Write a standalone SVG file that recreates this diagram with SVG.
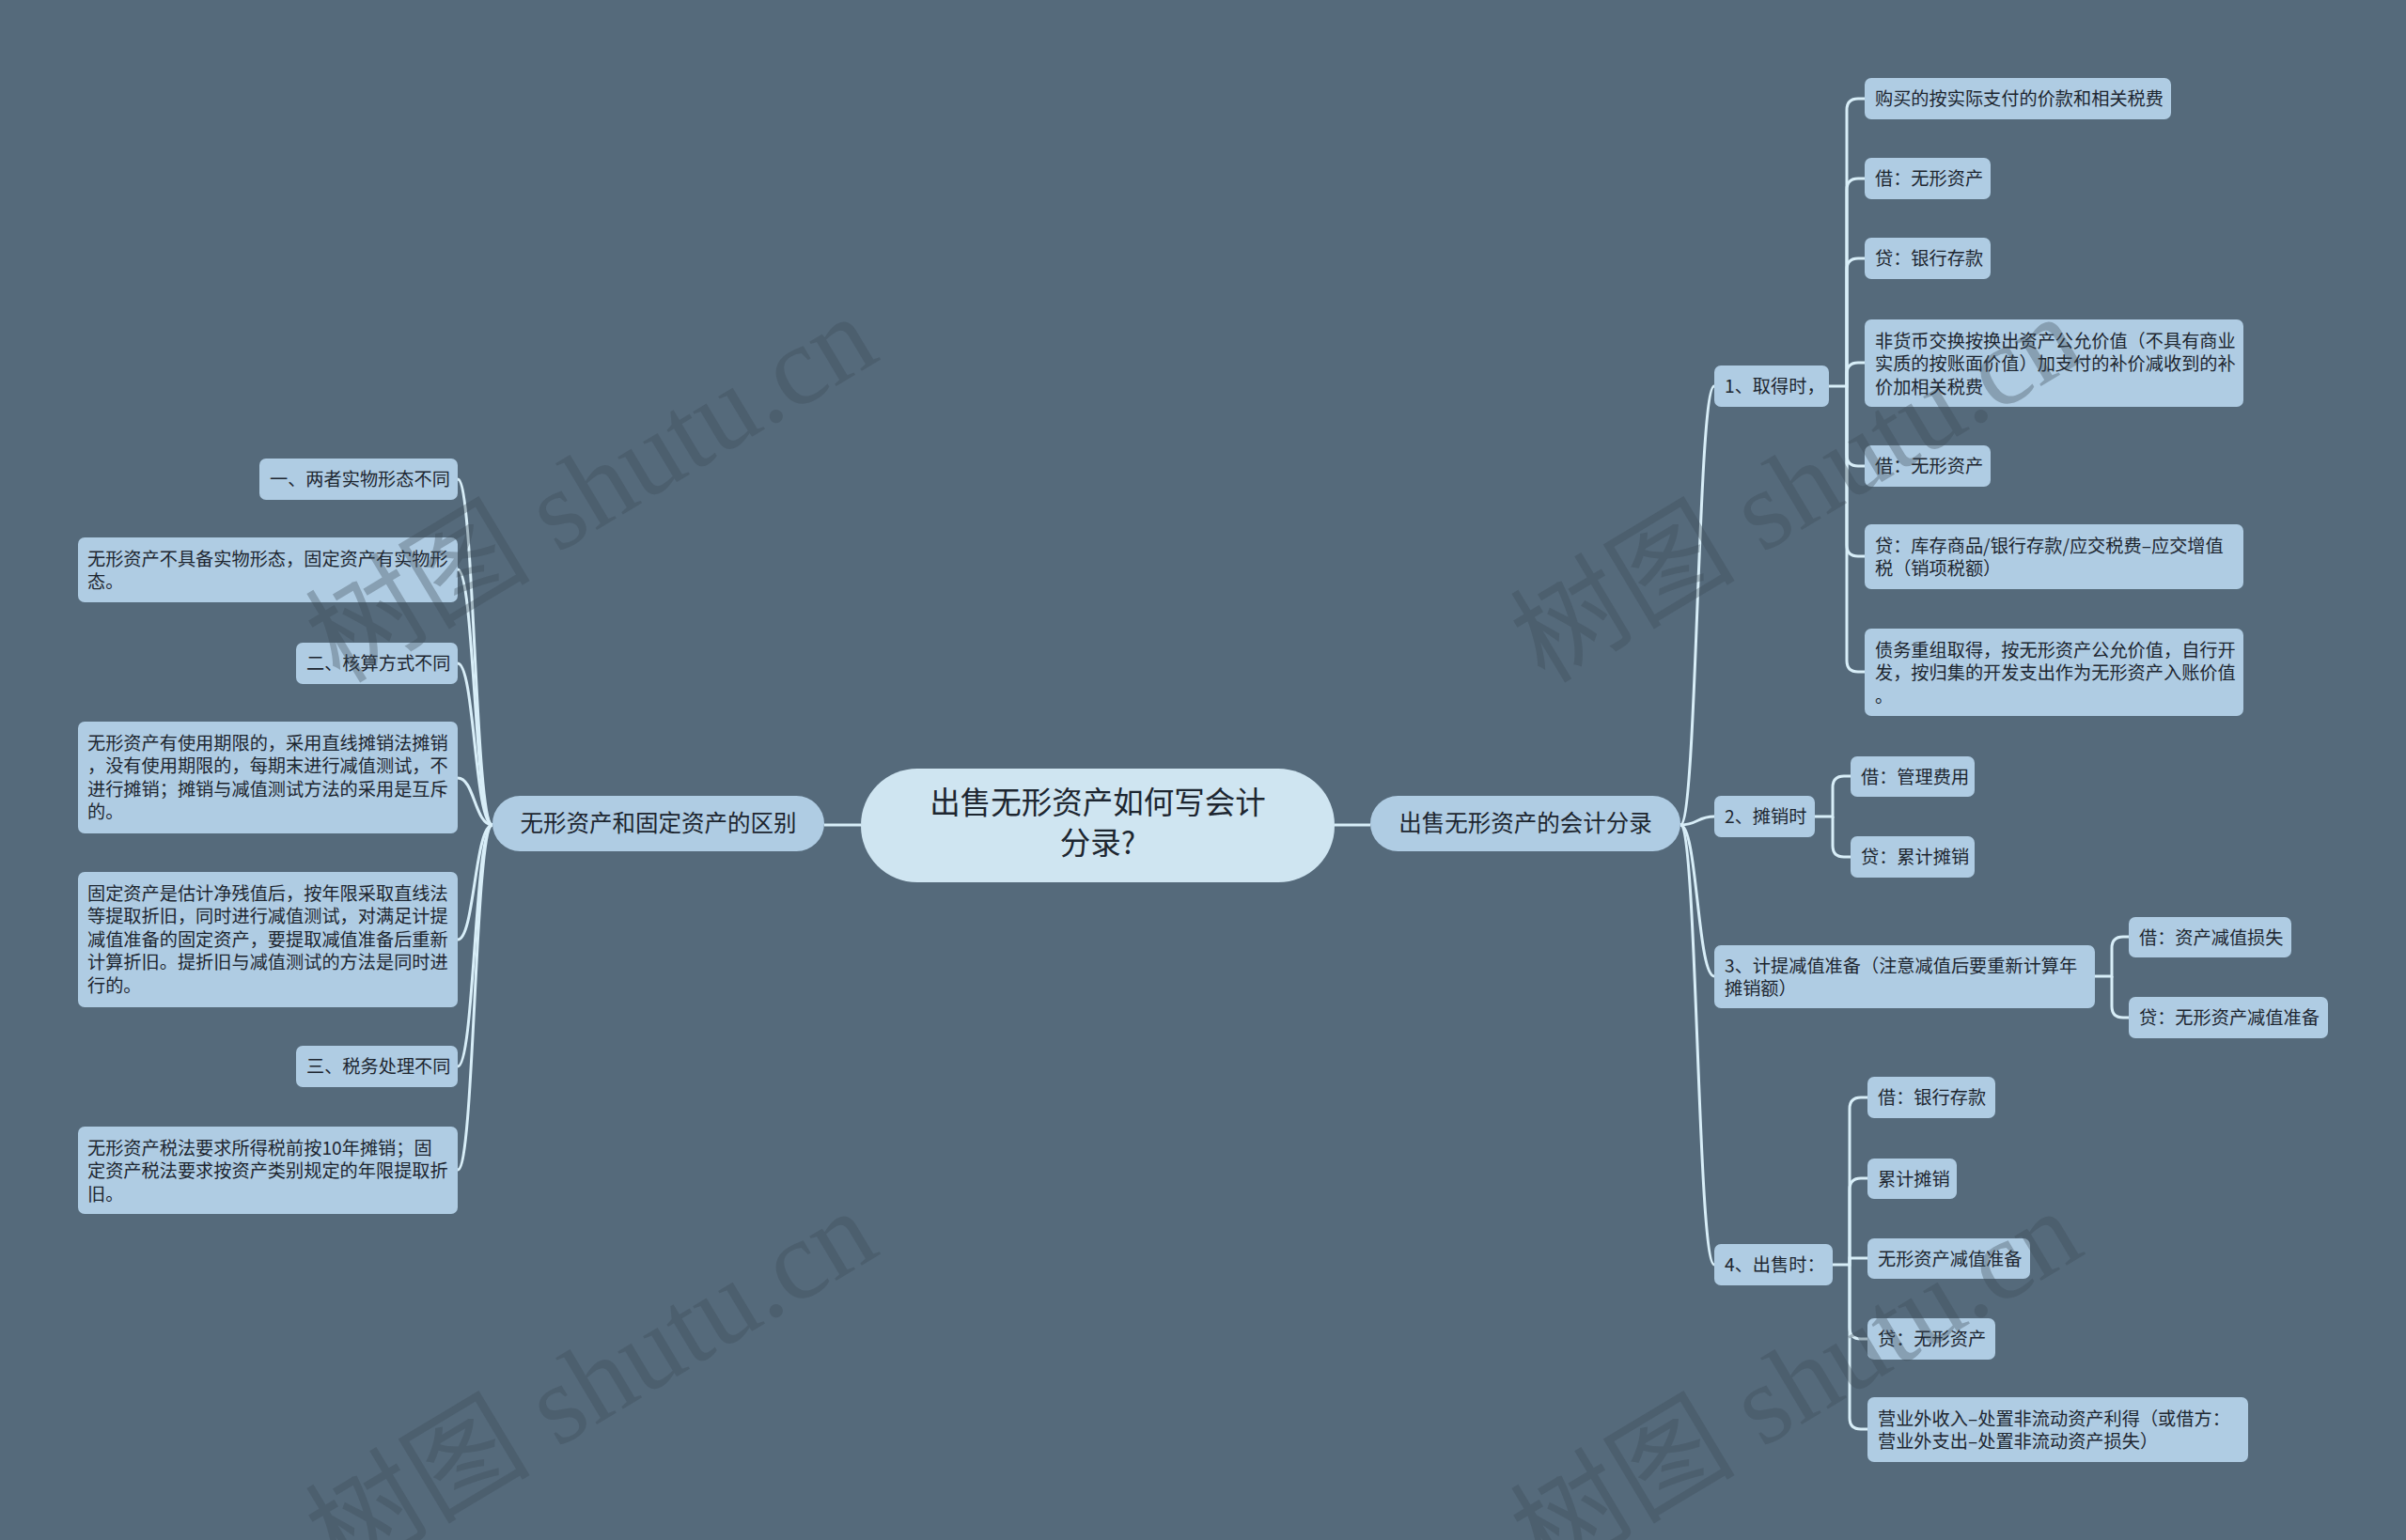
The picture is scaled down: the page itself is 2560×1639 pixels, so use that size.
<svg xmlns="http://www.w3.org/2000/svg" width="2560" height="1639" viewBox="0 0 2560 1639">
<style>
.bg{fill:#556a7b}
.n{fill:#afcce3}
.root{fill:#cfe5f1}
.t{font-family:"Noto Sans CJK SC","Noto Sans",sans-serif;font-size:19.2px;fill:#1d2630}
.tm{font-family:"Noto Sans CJK SC","Noto Sans",sans-serif;font-size:24.5px;fill:#1d2630;text-anchor:middle}
.tr{font-family:"Noto Sans CJK SC","Noto Sans",sans-serif;font-size:32.5px;fill:#1d2630;text-anchor:middle}
.c{fill:none;stroke:#d8eef8;stroke-width:3}
.wm{font-family:"Liberation Serif","Noto Sans CJK SC",serif;font-size:120px;fill:#3b4a56;fill-opacity:0.35;text-anchor:middle}
</style>
<rect class="bg" x="0" y="0" width="2560" height="1639"/>

<g id="connectors">
<path class="c" d="M916 878 H877"/>
<path class="c" d="M1420 878 H1458"/>
<path class="c" d="M524 878 C505 878 505 510 487 510"/>
<path class="c" d="M524 878 C505 878 505 606 487 606"/>
<path class="c" d="M524 878 C505 878 505 706 487 706"/>
<path class="c" d="M524 878 C505 878 505 828 487 828"/>
<path class="c" d="M524 878 C505 878 505 1000 487 1000"/>
<path class="c" d="M524 878 C505 878 505 1135 487 1135"/>
<path class="c" d="M524 878 C505 878 505 1245 487 1245"/>
<path class="c" d="M1788 878 C1806 878 1806 411 1824 411"/>
<path class="c" d="M1788 878 C1806 878 1806 869 1824 869"/>
<path class="c" d="M1788 878 C1806 878 1806 1039 1824 1039"/>
<path class="c" d="M1788 878 C1806 878 1806 1346 1824 1346"/>
<path class="c" d="M1946 411 H1965 V117 Q1965 105 1977 105 H1984"/>
<path class="c" d="M1965 411 V202 Q1965 190 1977 190 H1984"/>
<path class="c" d="M1965 411 V287 Q1965 275 1977 275 H1984"/>
<path class="c" d="M1965 411 V398 Q1965 386 1977 386 H1984"/>
<path class="c" d="M1965 411 V484 Q1965 496 1977 496 H1984"/>
<path class="c" d="M1965 411 V580 Q1965 592 1977 592 H1984"/>
<path class="c" d="M1965 411 V703 Q1965 715 1977 715 H1984"/>
<path class="c" d="M1931 869 H1950 V838 Q1950 826 1962 826 H1969"/>
<path class="c" d="M1950 869 V900 Q1950 912 1962 912 H1969"/>
<path class="c" d="M2229 1039 H2247 V1009 Q2247 997 2259 997 H2265"/>
<path class="c" d="M2247 1039 V1071 Q2247 1083 2259 1083 H2265"/>
<path class="c" d="M1950 1346 H1968 V1180 Q1968 1168 1980 1168 H1987"/>
<path class="c" d="M1968 1346 V1266 Q1968 1254 1980 1254 H1987"/>
<path class="c" d="M1968 1346 V1339 H1987"/>
<path class="c" d="M1968 1346 V1413 Q1968 1425 1980 1425 H1987"/>
<path class="c" d="M1968 1346 V1509 Q1968 1521 1980 1521 H1987"/>
</g>

<g id="root">
<rect class="root" x="916" y="818" width="504" height="121" rx="60"/>
<text class="tr" x="1168" y="866">出售无形资产如何写会计</text>
<text class="tr" x="1168" y="909">分录?</text>
</g>

<g id="main-left">
<rect class="n" x="524" y="847" width="353" height="59" rx="29.5"/>
<text class="tm" x="700.5" y="885">无形资产和固定资产的区别</text>
</g>
<g id="main-right">
<rect class="n" x="1458" y="847" width="330" height="59" rx="29.5"/>
<text class="tm" x="1623" y="885">出售无形资产的会计分录</text>
</g>

<g id="L1"><rect class="n" x="276" y="488" width="211" height="44" rx="7"/><text class="t" x="287" y="517">一、两者实物形态不同</text></g>
<g id="L2"><rect class="n" x="83" y="572" width="404" height="69" rx="7"/><text class="t" x="93" y="601.5">无形资产不具备实物形态，固定资产有实物形</text><text class="t" x="93" y="626">态。</text></g>
<g id="L3"><rect class="n" x="315" y="684" width="172" height="44" rx="7"/><text class="t" x="326" y="713">二、核算方式不同</text></g>
<g id="L4"><rect class="n" x="83" y="768" width="404" height="119" rx="7"/><text class="t" x="93" y="797.5">无形资产有使用期限的，采用直线摊销法摊销</text><text class="t" x="93" y="822">，没有使用期限的，每期末进行减值测试，不</text><text class="t" x="93" y="846.5">进行摊销；摊销与减值测试方法的采用是互斥</text><text class="t" x="93" y="871">的。</text></g>
<g id="L5"><rect class="n" x="83" y="928" width="404" height="144" rx="7"/><text class="t" x="93" y="957.5">固定资产是估计净残值后，按年限采取直线法</text><text class="t" x="93" y="982">等提取折旧，同时进行减值测试，对满足计提</text><text class="t" x="93" y="1006.5">减值准备的固定资产，要提取减值准备后重新</text><text class="t" x="93" y="1031">计算折旧。提折旧与减值测试的方法是同时进</text><text class="t" x="93" y="1055.5">行的。</text></g>
<g id="L6"><rect class="n" x="315" y="1113" width="172" height="44" rx="7"/><text class="t" x="326" y="1142">三、税务处理不同</text></g>
<g id="L7"><rect class="n" x="83" y="1199" width="404" height="93" rx="7"/><text class="t" x="93" y="1228.5">无形资产税法要求所得税前按10年摊销；固</text><text class="t" x="93" y="1253">定资产税法要求按资产类别规定的年限提取折</text><text class="t" x="93" y="1277.5">旧。</text></g>

<g id="R1"><rect class="n" x="1824" y="389" width="122" height="44" rx="7"/><text class="t" x="1835" y="418">1、取得时，</text></g>
<g id="R1a"><rect class="n" x="1984" y="83" width="326" height="44" rx="7"/><text class="t" x="1995" y="112">购买的按实际支付的价款和相关税费</text></g>
<g id="R1b"><rect class="n" x="1984" y="168" width="134" height="44" rx="7"/><text class="t" x="1995" y="197">借：无形资产</text></g>
<g id="R1c"><rect class="n" x="1984" y="253" width="134" height="44" rx="7"/><text class="t" x="1995" y="282">贷：银行存款</text></g>
<g id="R1d"><rect class="n" x="1984" y="340" width="403" height="93" rx="7"/><text class="t" x="1995" y="369.5">非货币交换按换出资产公允价值（不具有商业</text><text class="t" x="1995" y="394">实质的按账面价值）加支付的补价减收到的补</text><text class="t" x="1995" y="418.5">价加相关税费</text></g>
<g id="R1e"><rect class="n" x="1984" y="474" width="134" height="44" rx="7"/><text class="t" x="1995" y="503">借：无形资产</text></g>
<g id="R1f"><rect class="n" x="1984" y="558" width="403" height="69" rx="7"/><text class="t" x="1995" y="587.5">贷：库存商品/银行存款/应交税费–应交增值</text><text class="t" x="1995" y="612">税（销项税额）</text></g>
<g id="R1g"><rect class="n" x="1984" y="669" width="403" height="93" rx="7"/><text class="t" x="1995" y="698.5">债务重组取得，按无形资产公允价值，自行开</text><text class="t" x="1995" y="723">发，按归集的开发支出作为无形资产入账价值</text><text class="t" x="1995" y="747.5">。</text></g>

<g id="R2"><rect class="n" x="1824" y="847" width="107" height="44" rx="7"/><text class="t" x="1835" y="876">2、摊销时</text></g>
<g id="R2a"><rect class="n" x="1969" y="805" width="132" height="43" rx="7"/><text class="t" x="1980" y="833.5">借：管理费用</text></g>
<g id="R2b"><rect class="n" x="1969" y="890" width="132" height="44" rx="7"/><text class="t" x="1980" y="919">贷：累计摊销</text></g>

<g id="R3"><rect class="n" x="1824" y="1006" width="405" height="67" rx="7"/><text class="t" x="1835" y="1034.5">3、计提减值准备（注意减值后要重新计算年</text><text class="t" x="1835" y="1059">摊销额）</text></g>
<g id="R3a"><rect class="n" x="2265" y="976" width="173" height="43" rx="7"/><text class="t" x="2276" y="1004.5">借：资产减值损失</text></g>
<g id="R3b"><rect class="n" x="2265" y="1061" width="212" height="44" rx="7"/><text class="t" x="2276" y="1090">贷：无形资产减值准备</text></g>

<g id="R4"><rect class="n" x="1824" y="1324" width="126" height="44" rx="7"/><text class="t" x="1835" y="1353">4、出售时：</text></g>
<g id="R4a"><rect class="n" x="1987" y="1146" width="136" height="44" rx="7"/><text class="t" x="1998" y="1175">借：银行存款</text></g>
<g id="R4b"><rect class="n" x="1987" y="1233" width="95" height="43" rx="7"/><text class="t" x="1998" y="1261.5">累计摊销</text></g>
<g id="R4c"><rect class="n" x="1987" y="1318" width="173" height="43" rx="7"/><text class="t" x="1998" y="1346.5">无形资产减值准备</text></g>
<g id="R4d"><rect class="n" x="1987" y="1403" width="136" height="44" rx="7"/><text class="t" x="1998" y="1432">贷：无形资产</text></g>
<g id="R4e"><rect class="n" x="1987" y="1487" width="405" height="69" rx="7"/><text class="t" x="1998" y="1516.5">营业外收入–处置非流动资产利得（或借方：</text><text class="t" x="1998" y="1541">营业外支出–处置非流动资产损失）</text></g>

<g id="watermarks">
<text class="wm" transform="translate(650 555) rotate(-31)">树图 shutu.cn</text>
<text class="wm" transform="translate(1932 555) rotate(-31)">树图 shutu.cn</text>
<text class="wm" transform="translate(650 1507) rotate(-31)">树图 shutu.cn</text>
<text class="wm" transform="translate(1932 1507) rotate(-31)">树图 shutu.cn</text>
</g>
</svg>
